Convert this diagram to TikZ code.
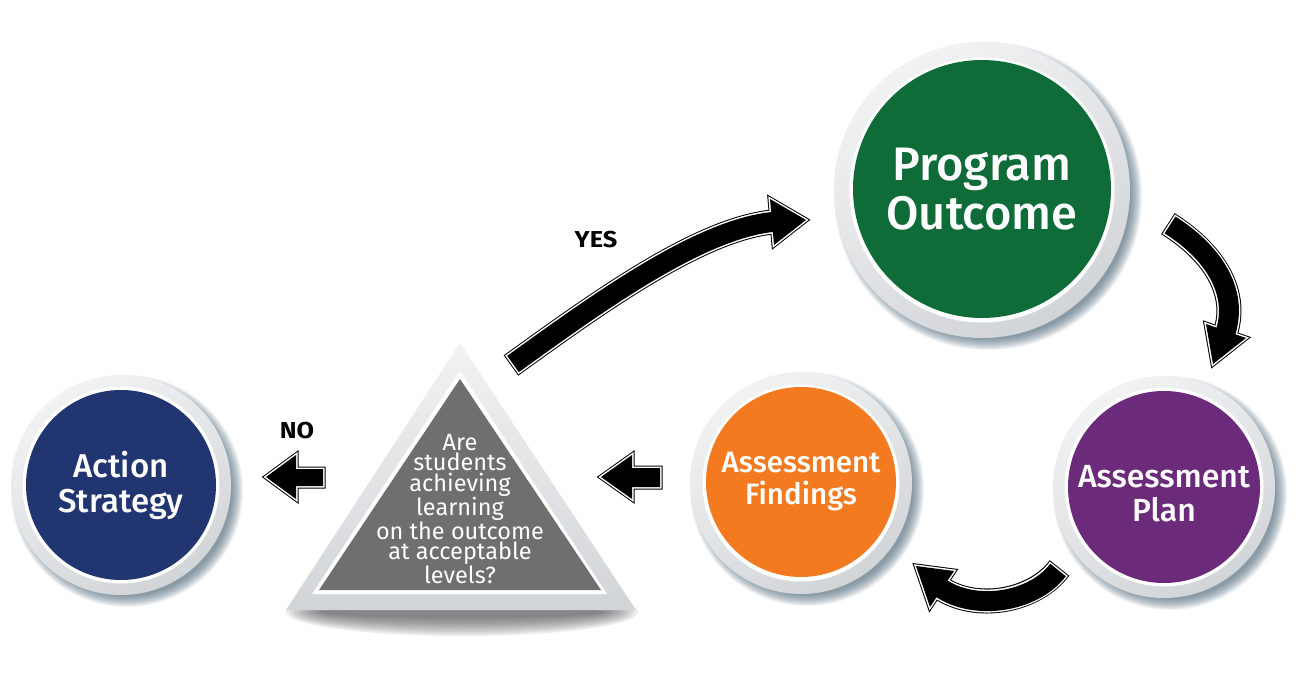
\documentclass[tikz,border=0pt]{standalone}
\usepackage{fontspec}
\setmainfont{Fira Sans}
\newfontfamily\medfont{Fira Sans Medium}
\definecolor{pogreen}{HTML}{0F6C39}
\definecolor{navy}{HTML}{213570}
\definecolor{plum}{HTML}{6C2A7B}
\definecolor{orng}{HTML}{F47A20}
\definecolor{trigrey}{HTML}{6F6F6F}
\definecolor{ringlight}{HTML}{F1F2F3}
\definecolor{ringdark}{HTML}{D2D5D8}
\definecolor{shadowc}{HTML}{3E5A6E}
\definecolor{trishadow}{HTML}{4A4D50}
\tikzset{
  bubble/.style={circle, inner sep=0pt, text=white, align=center},
  lbl/.style={align=center, inner sep=0pt},
}
\newcommand{\drawring}[4]{%
  \foreach \i in {0,...,11}{%
    \fill[shadowc,opacity=0.07] (#1+6,#2+6) circle[radius={(#3-5+\i)*1pt}];}%
  \shade[top color=ringlight,bottom color=ringdark,shading angle=30] (#1,#2) circle[radius=#3pt];
  \fill[white] (#1,#2) circle[radius={(#4+3.5)*1pt}];
}
\newcommand{\blockarrow}[1]{%
  \draw[black,line width=5pt,line join=miter,fill=black] #1;
  \draw[white,line width=3pt,line join=miter] #1;
  \fill[black] #1;}
\newcommand{\curvarrow}[2]{%
  \draw[black,line width=25pt,shorten <=-2.5pt,shorten >=-3pt] #1;
  \draw[black,line width=5pt,line join=miter,fill=black] #2;
  \draw[white,line width=23pt,shorten <=-1.5pt,shorten >=-3pt] #1;
  \draw[white,line width=3pt,line join=miter] #2;
  \draw[black,line width=20pt,shorten >=-3pt] #1;
  \fill[black] #2;}
\begin{document}
\begin{tikzpicture}[x=1pt,y=-1pt]
\useasboundingbox (0,0) rectangle (1300,676);
\fill[white] (0,0) rectangle (1300,676);

% rings
\drawring{121}{485}{110}{95}
\drawring{982}{190}{148}{129}
\drawring{1164}{487}{111}{96}
\drawring{801}{483}{111}{95}

% circles
\node[bubble, fill=navy, minimum size=190pt, font=\medfont\fontsize{33}{35}\selectfont] (as) at (121,485) {Action\\Strategy};
\node[bubble, fill=pogreen, minimum size=258pt, font=\medfont\fontsize{47}{49}\selectfont] (po) at (982,189) {Program\\Outcome};
\node[bubble, fill=plum, minimum size=192pt, font=\medfont\fontsize{32}{34}\selectfont] (ap) at (1164,487) {};
\node[lbl, text=white, font=\medfont\fontsize{32}{34}\selectfont] (aptxt) at (1164,494) {Assessment\\Plan};
\node[bubble, fill=orng, minimum size=190pt, font=\medfont\fontsize{29.5}{32}\selectfont] (af) at (801,482) {Assessment\\Findings};

% triangle
\foreach \i in {0,...,9}{%
  \fill[trishadow,opacity=0.1] (462,612) ellipse[x radius={(176-\i*4)*1pt}, y radius={(24-\i*2)*1pt}];}
\shade[top color=ringlight,bottom color=ringdark] (460,343) -- (636,610) -- (286,610) -- cycle;
\fill[white] (460,371) -- (607,594) -- (312,594) -- cycle;
\fill[trigrey] (460,379) -- (601,590) -- (319,590) -- cycle;
\node[lbl, text=white, font=\fontsize{23.5}{20.5}\selectfont] (q) at (460,509)
  {Are\\students\\achieving\\learning\\on the outcome\\at acceptable\\levels?};

% straight arrows
\blockarrow{(266,477) -- (296,455) -- (296,469) -- (323,469) -- (323,486) -- (296,486) -- (296,499) -- cycle}
\blockarrow{(601,477) -- (632,455) -- (632,468) -- (660,468) -- (660,487) -- (632,487) -- (632,499) -- cycle}

% curved arrows
\curvarrow{(513,364) .. controls (595,305) and (700,228) .. (772,222)}
          {(770,199) -- (806,220) -- (774,245) -- cycle}
\curvarrow{(1170,225) .. controls (1210,250) and (1240,290) .. (1226,331)}
          {(1246,338) -- (1213,364) -- (1206,324) -- cycle}
\curvarrow{(1058,570) .. controls (1034,602) and (975,612) .. (942,589)}
          {(954,571) -- (916,566) -- (930,607) -- cycle}

% labels
\node[lbl, font=\bfseries\fontsize{23}{23}\selectfont] (yes) at (596,240) {\scalebox{1.1}[1]{YES}};
\node[lbl, font=\bfseries\fontsize{23}{23}\selectfont] (no) at (297,431) {\scalebox{1.1}[1]{NO}};
\end{tikzpicture}
\end{document}
